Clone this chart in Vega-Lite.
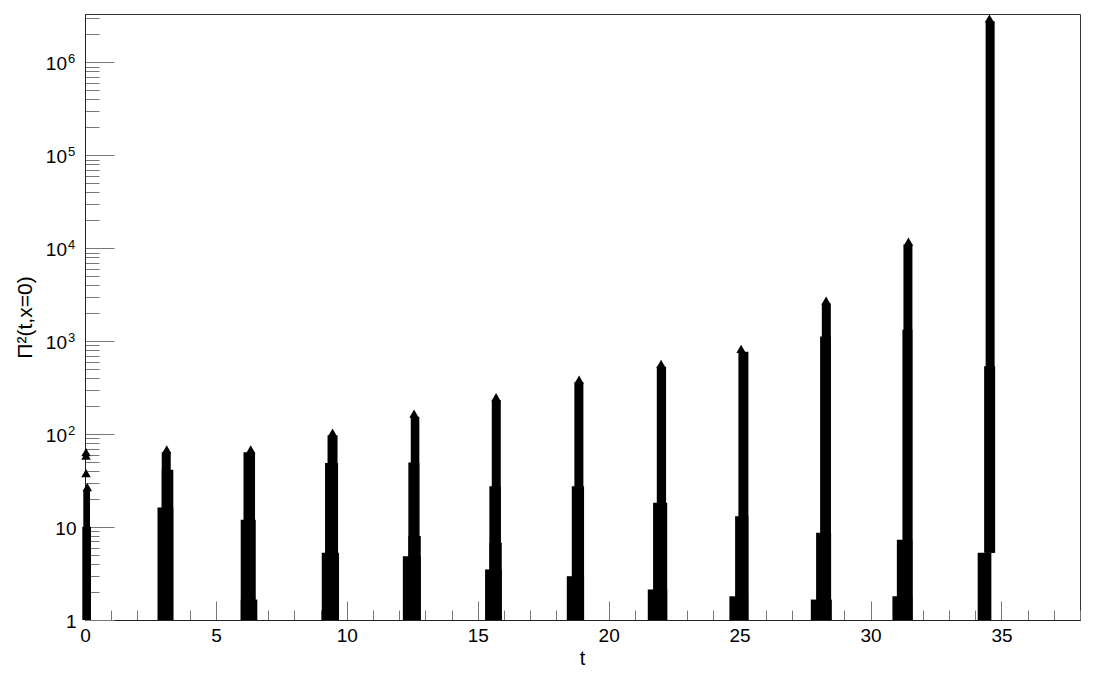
{
  "$schema": "https://vega.github.io/schema/vega-lite/v6.json",
  "width": 995,
  "height": 606,
  "autosize": {"type": "none"},
  "padding": {"left": 85, "top": 14, "right": 16, "bottom": 53},
  "background": "white",
  "config": {
    "view": {"stroke": "#333", "strokeWidth": 1},
    "font": "Liberation Sans",
    "axis": {"labelOverlap": false, "labelFlush": false, "grid": false}
  },
  "datasets": {
    "cols": [
      {"t0": -0.065, "t1": 0.191, "v0": 1, "v1": 25.1},
      {"t0": -0.103, "t1": 0.229, "v0": 1, "v1": 10.1},
      {"t0": 2.930, "t1": 3.274, "v0": 1, "v1": 63.7},
      {"t0": 2.930, "t1": 3.373, "v0": 1, "v1": 41.5},
      {"t0": 2.769, "t1": 3.373, "v0": 1, "v1": 16.2},
      {"t0": 6.054, "t1": 6.494, "v0": 1, "v1": 63.7},
      {"t0": 5.947, "t1": 6.521, "v0": 1, "v1": 12.0},
      {"t0": 5.947, "t1": 6.581, "v0": 1, "v1": 1.66},
      {"t0": 9.263, "t1": 9.645, "v0": 1, "v1": 97},
      {"t0": 9.167, "t1": 9.664, "v0": 1, "v1": 49},
      {"t0": 9.041, "t1": 9.702, "v0": 1, "v1": 5.3},
      {"t0": 12.441, "t1": 12.769, "v0": 1, "v1": 154},
      {"t0": 12.349, "t1": 12.769, "v0": 1, "v1": 49.4},
      {"t0": 12.349, "t1": 12.823, "v0": 1, "v1": 8},
      {"t0": 12.139, "t1": 12.823, "v0": 1, "v1": 4.85},
      {"t0": 15.535, "t1": 15.879, "v0": 1, "v1": 233},
      {"t0": 15.443, "t1": 15.879, "v0": 1, "v1": 27.5},
      {"t0": 15.443, "t1": 15.917, "v0": 1, "v1": 6.8},
      {"t0": 15.279, "t1": 15.917, "v0": 1, "v1": 3.5},
      {"t0": 18.690, "t1": 19.034, "v0": 1, "v1": 361},
      {"t0": 18.591, "t1": 19.060, "v0": 1, "v1": 27.5},
      {"t0": 18.400, "t1": 19.060, "v0": 1, "v1": 2.96},
      {"t0": 21.837, "t1": 22.192, "v0": 1, "v1": 532},
      {"t0": 21.696, "t1": 22.235, "v0": 1, "v1": 18.3},
      {"t0": 21.493, "t1": 22.235, "v0": 1, "v1": 2.13},
      {"t0": 24.954, "t1": 25.336, "v0": 1, "v1": 771},
      {"t0": 24.828, "t1": 25.336, "v0": 1, "v1": 13.1},
      {"t0": 24.610, "t1": 25.325, "v0": 1, "v1": 1.8},
      {"t0": 28.140, "t1": 28.484, "v0": 1, "v1": 2550},
      {"t0": 28.075, "t1": 28.484, "v0": 1, "v1": 1125},
      {"t0": 27.922, "t1": 28.495, "v0": 1, "v1": 8.7},
      {"t0": 27.720, "t1": 28.522, "v0": 1, "v1": 1.66},
      {"t0": 31.257, "t1": 31.600, "v0": 1, "v1": 11000},
      {"t0": 31.218, "t1": 31.600, "v0": 1, "v1": 1330},
      {"t0": 31.005, "t1": 31.600, "v0": 1, "v1": 7.3},
      {"t0": 30.836, "t1": 31.600, "v0": 1, "v1": 1.8},
      {"t0": 34.396, "t1": 34.740, "v0": 5.3, "v1": 2770000},
      {"t0": 34.339, "t1": 34.759, "v0": 5.3, "v1": 537},
      {"t0": 34.092, "t1": 34.615, "v0": 1, "v1": 5.3}
    ],
    "pts": [
      {"t": 0.088, "v": 26.9},
      {"t": 0.04, "v": 64.0},
      {"t": 0.04, "v": 58.7},
      {"t": 0.04, "v": 38.1},
      {"t": 3.121, "v": 68.5},
      {"t": 6.329, "v": 68.5},
      {"t": 9.454, "v": 104},
      {"t": 12.567, "v": 166},
      {"t": 15.699, "v": 250},
      {"t": 18.869, "v": 387},
      {"t": 22.001, "v": 571},
      {"t": 25.057, "v": 828},
      {"t": 28.304, "v": 2740},
      {"t": 31.448, "v": 11800},
      {"t": 34.541, "v": 2970000}
    ]
  },
  "resolve": {"axis": {"y": "independent"}},
  "layer": [
    {
      "data": {"name": "cols"},
      "mark": {"type": "rect", "color": "black", "clip": false},
      "encoding": {
        "x": {
          "field": "t0",
          "type": "quantitative",
          "scale": {"domain": [0, 38], "nice": false, "zero": false},
          "axis": {
            "title": "t",
            "values": [0,1,2,3,4,5,6,7,8,9,10,11,12,13,14,15,16,17,18,19,20,21,22,23,24,25,26,27,28,29,30,31,32,33,34,35,36,37,38],
            "tickSize": {"condition": {"test": "datum.value % 5 === 0", "value": -19}, "value": -10},
            "labelExpr": "datum.value % 5 === 0 ? datum.label : ''",
            "labelFontSize": 19,
            "labelPadding": 25,
            "labelFlush": false,
            "labelOverlap": false,
            "labelColor": "black",
            "grid": false,
            "domainColor": "#222",
            "tickColor": "#777",
            "titleFontSize": 20,
            "titleFontWeight": "normal",
            "titleColor": "black",
            "titleX": 497,
            "titleY": 28,
            "titleBaseline": "top"
          }
        },
        "x2": {"field": "t1"},
        "y": {
          "field": "v0",
          "type": "quantitative",
          "scale": {"type": "log", "domain": [1, 3320000], "nice": false},
          "axis": {
            "orient": "left",
            "title": "Π²(t,x=0)",
            "values": [1,2,3,4,5,6,7,8,9,10,20,30,40,50,60,70,80,90,100,200,300,400,500,600,700,800,900,1000,2000,3000,4000,5000,6000,7000,8000,9000,10000,20000,30000,40000,50000,60000,70000,80000,90000,100000,200000,300000,400000,500000,600000,700000,800000,900000,1000000,2000000,3000000],
            "tickSize": {"condition": {"test": "indexof([1,10,100,1000,10000,100000,1000000], datum.value) >= 0", "value": -29}, "value": -14},
            "labelExpr": "datum.value == 1 ? '1' : datum.value == 10 ? '10' : indexof([100,1000,10000,100000,1000000], datum.value) >= 0 ? '10' : ''",
            "labelFontSize": 19,
            "labelPadding": {"condition": {"test": "datum.value >= 100", "value": 47.5}, "value": 38},
            "labelOffset": 1,
            "labelOverlap": false,
            "labelFlush": false,
            "labelColor": "black",
            "grid": false,
            "domainColor": "#222",
            "tickColor": "#777",
            "titleFontSize": 21,
            "titleFontWeight": "normal",
            "titleColor": "black",
            "titleX": -50,
            "titleY": 303,
            "titleAngle": -90,
            "titleBaseline": "bottom",
            "titleAlign": "center"
          }
        },
        "y2": {"field": "v1"}
      }
    },
    {
      "data": {"name": "pts"},
      "mark": {"type": "point", "shape": "triangle-up", "filled": true, "color": "black", "opacity": 1, "size": 90, "clip": false},
      "encoding": {
        "x": {
          "field": "t",
          "type": "quantitative",
          "axis": {
            "title": "t",
            "values": [0,1,2,3,4,5,6,7,8,9,10,11,12,13,14,15,16,17,18,19,20,21,22,23,24,25,26,27,28,29,30,31,32,33,34,35,36,37,38],
            "tickSize": {"condition": {"test": "datum.value % 5 === 0", "value": -19}, "value": -10},
            "labelExpr": "datum.value % 5 === 0 ? datum.label : ''",
            "labelFontSize": 19,
            "labelPadding": 25,
            "labelFlush": false,
            "labelOverlap": false,
            "labelColor": "black",
            "grid": false,
            "domainColor": "#222",
            "tickColor": "#777",
            "titleFontSize": 20,
            "titleFontWeight": "normal",
            "titleColor": "black",
            "titleX": 497,
            "titleY": 28,
            "titleBaseline": "top"
          }
        },
        "y": {
          "field": "v",
          "type": "quantitative",
          "axis": {
            "orient": "left",
            "title": null,
            "values": [100, 1000, 10000, 100000, 1000000],
            "labelExpr": "datum.value == 100 ? '2' : datum.value == 1000 ? '3' : datum.value == 10000 ? '4' : datum.value == 100000 ? '5' : '6'",
            "ticks": false,
            "tickSize": 0,
            "domain": false,
            "labelAlign": "left",
            "labelBaseline": "middle",
            "labelPadding": 17.5,
            "labelOffset": -4,
            "labelFontSize": 13,
            "labelColor": "black",
            "labelOverlap": false,
            "labelFlush": false,
            "grid": false
          }
        }
      }
    }
  ]
}
